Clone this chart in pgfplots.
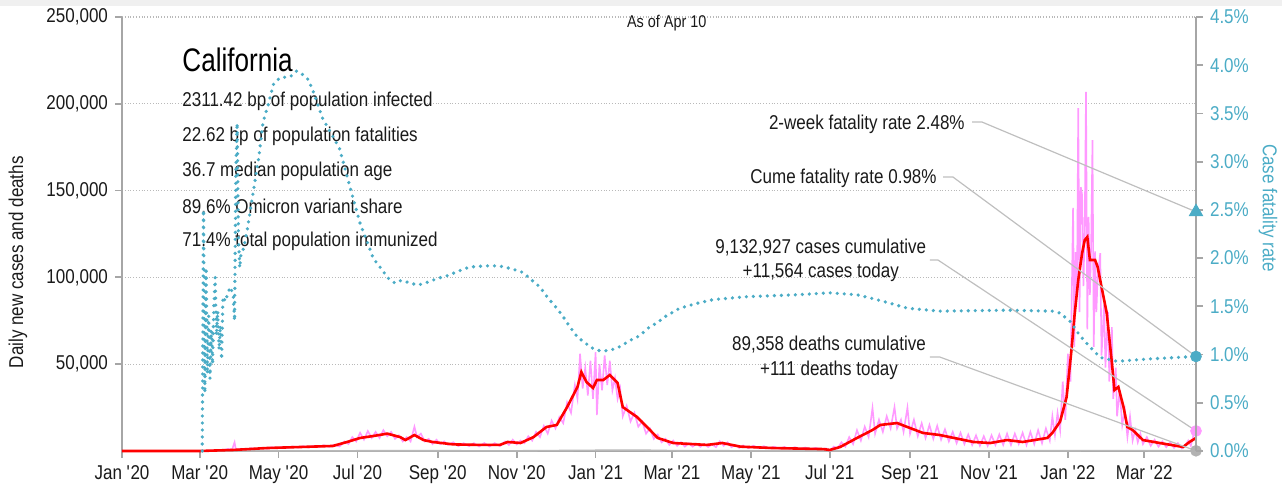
\documentclass[border=0pt]{standalone}
\usepackage{pgfplots}
\pgfplotsset{compat=1.18}
\usepackage{fontspec}
\setmainfont[FakeStretch=0.85]{Liberation Sans}
\newfontfamily\titlefont[FakeStretch=0.8]{Liberation Sans}
\definecolor{cfr}{HTML}{4BACC6}
\definecolor{pinkc}{HTML}{FF99FF}
\definecolor{axgray}{HTML}{A6A6A6}
\definecolor{anngray}{HTML}{BFBFBF}
\definecolor{txt}{HTML}{1A1A1A}
\begin{document}
\begin{tikzpicture}[font=\fontsize{10}{12}\selectfont]
\begin{axis}[
  name=ax, scale only axis, width=537pt, height=217pt,
  xmin=0, xmax=830, ymin=0, ymax=250000,
  axis x line=bottom, axis y line=left,
  axis line style={-, axgray, line width=0.9pt},
  every outer x axis line/.append style={-},
  every outer y axis line/.append style={-},
  xtick={0,60,121,182,244,305,366,425,486,547,609,670,731,790},
  xticklabels={Jan \textquotesingle20,Mar \textquotesingle20,May \textquotesingle20,Jul \textquotesingle20,Sep \textquotesingle20,Nov \textquotesingle20,Jan \textquotesingle21,Mar \textquotesingle21,May \textquotesingle21,Jul \textquotesingle21,Sep \textquotesingle21,Nov \textquotesingle21,Jan \textquotesingle22,Mar \textquotesingle22},
  ytick={50000,100000,150000,200000,250000},
  ymajorgrids, grid style={densely dotted, gray!55, line width=0.6pt},
  tick style={axgray, line width=0.9pt}, major tick length=3.5pt, tick align=outside,
  scaled y ticks=false,
  yticklabel style={/pgf/number format/.cd, fixed, 1000 sep={,}, assume math mode=true},
  ticklabel style={text=txt},
  clip=false,
]
\addplot[pinkc, line width=0.8pt] coordinates {
(0,0)(60,0)(63,50)(70,300)(74,600)(78,400)(82,1200)(85,700)(87,5000)(88,800)(92,1300)(96,900)(100,1600)(104,1100)(108,1900)(112,1300)(116,2200)(120,1500)(124,2400)(128,1700)(132,2600)(136,1900)(140,2800)(144,2000)(148,3000)(152,2200)(156,3300)(160,2400)(164,3600)(168,2600)(172,5500)(175,4000)(178,8000)(181,5500)(184,10500)(187,6500)(190,11500)(193,7500)(196,11000)(199,7500)(202,12000)(205,8500)(208,11000)(211,7000)(214,9000)(217,5500)(220,8000)(223,5500)(226,14000)(228,8000)(231,10000)(234,5500)(237,7000)(240,4000)(243,6500)(246,4000)(249,5500)(252,3500)(256,5000)(260,2800)(264,4500)(268,2800)(272,4500)(276,2600)(280,4600)(284,2600)(288,4500)(292,2800)(296,5500)(299,3500)(302,6500)(305,3800)(308,6000)(311,4500)(314,8500)(317,6000)(320,11000)(323,8000)(326,14500)(329,10000)(332,17500)(335,13000)(338,19500)(341,16000)(344,28000)(347,22000)(350,38000)(352,30000)(354,56000)(356,36000)(358,48000)(360,32000)(362,52000)(364,30000)(366,57000)(367,20700)(369,50000)(371,35000)(373,55000)(375,38000)(377,52000)(379,35000)(381,42000)(383,30000)(385,36000)(387,20000)(390,26000)(393,17000)(396,22000)(399,14000)(402,17000)(405,10000)(408,13000)(411,7000)(414,9500)(417,5000)(420,7000)(423,3500)(426,6000)(429,3000)(432,5000)(435,2500)(438,4500)(441,2500)(444,4200)(447,2400)(450,4000)(453,2300)(456,3800)(459,2200)(462,5600)(465,3000)(468,5000)(471,2200)(474,3500)(477,1800)(480,3200)(484,1600)(488,3000)(492,1500)(496,2800)(500,1400)(504,2500)(508,1300)(512,2300)(516,1200)(520,2200)(524,1100)(528,2000)(532,1000)(536,1800)(540,900)(544,1500)(547,0)(550,2500)(553,1500)(556,5000)(559,2500)(562,8000)(565,4000)(568,12000)(571,6000)(574,14000)(577,8000)(580,24800)(582,10000)(585,18000)(588,11000)(591,20000)(594,13000)(597,25300)(599,13000)(602,18000)(604,11000)(607,25000)(609,10000)(612,18000)(615,8500)(618,16000)(621,7500)(624,15000)(627,7000)(630,14500)(633,6500)(636,12500)(639,5500)(642,11000)(645,4500)(648,10500)(651,4000)(654,9500)(657,3500)(660,9000)(663,3000)(666,8500)(669,3000)(672,9000)(675,3500)(678,9500)(681,3500)(684,10000)(687,3500)(690,10000)(693,4000)(696,10500)(699,3500)(702,11000)(705,4000)(708,12000)(711,4500)(714,13000)(717,6000)(719,20000)(721,9000)(723,22000)(725,12000)(727,40000)(729,18000)(731,56000)(733,40000)(735,140000)(736,60000)(737,114600)(738,90000)(739,197500)(740,80000)(741,152000)(742,147500)(743,95000)(744,130000)(745,206800)(746,70000)(747,134800)(748,90000)(749,120000)(750,179100)(751,60000)(752,115000)(753,80000)(754,100000)(756,114000)(757,55000)(759,85000)(760,48000)(762,80000)(763,40000)(765,71400)(766,30000)(768,48000)(769,20000)(771,35000)(773,15000)(775,23600)(777,8000)(779,20000)(781,6000)(783,12000)(785,5000)(787,10000)(789,4000)(792,8000)(795,3000)(798,6500)(801,2500)(804,5500)(807,2200)(810,5000)(813,1800)(816,4500)(819,1500)(822,3500)(824,6000)(826,3000)(828,9000)(830,11564)
};
\addplot[gray!55, line width=0.8pt] coordinates {
(0,0)(60,0)(90,60)(120,80)(200,120)(240,140)(300,60)(366,400)(400,500)(430,150)(550,30)(620,100)(730,120)(760,250)(800,150)(830,111)
};
\addplot[red, line width=1.3pt] coordinates {
(0,0)(60,0)(86,600)(112,1700)(138,2300)(163,2900)(174,5200)(184,7500)(194,8600)(205,10000)(215,8000)(219,6300)(226,9200)(233,6300)(240,5200)(256,3800)(277,3500)(292,3500)(298,5200)(308,4600)(318,8000)(328,13800)(336,15000)(344,25300)(352,36900)(355,45500)(359,39700)(364,36300)(367,40900)(372,40900)(377,43800)(383,39200)(387,25300)(398,19600)(408,12100)(414,7500)(426,4600)(452,3500)(464,4600)(478,2500)(503,1700)(542,1100)(547,600)(555,2300)(568,7500)(580,12100)(586,15000)(599,16100)(607,13800)(619,10400)(632,9200)(658,5200)(671,4600)(684,6300)(696,5200)(715,7500)(719,10400)(725,17000)(730,31100)(734,59900)(736,77200)(739,98500)(742,114000)(744,121500)(746,123300)(748,110000)(752,110000)(754,106000)(757,94500)(761,79500)(765,50700)(767,35100)(770,36900)(774,25300)(777,13800)(781,12100)(789,6300)(802,4600)(820,2300)(825,5200)(830,7500)
};
\addplot[only marks, mark=*, mark size=2.7pt, pinkc] coordinates {(830,11564)};
\addplot[only marks, mark=*, mark size=2.7pt, gray!60] coordinates {(830,111)};
% annotation leader lines
\draw[anngray, line width=0.6pt] (axis cs:656.9,189500) -- (axis cs:664.6,189500) -- (axis cs:830,137778);
\draw[anngray, line width=0.6pt] (axis cs:634.5,157800) -- (axis cs:642.2,157800) -- (axis cs:830,54444);
\draw[anngray, line width=0.6pt] (axis cs:624.4,110000) -- (axis cs:630.6,110000) -- (axis cs:830,11564);
\draw[anngray, line width=0.6pt] (axis cs:624.4,54100) -- (axis cs:632.1,54100) -- (axis cs:830,111);
% texts
\node[anchor=east, text=txt, inner sep=0pt] at (axis cs:651.5,188350) {2-week fatality rate 2.48\%};
\node[anchor=east, text=txt, inner sep=0pt] at (axis cs:629.8,157250) {Cume fatality rate 0.98\%};
\node[align=center, text=txt, inner sep=0pt, font=\fontsize{10}{12.2}\selectfont] at (axis cs:540,110000) {9,132,927 cases cumulative\\+11,564 cases today};
\node[align=center, text=txt, inner sep=0pt, font=\fontsize{10}{12.2}\selectfont] at (axis cs:546.4,53600) {89,358 deaths cumulative\\+111 deaths today};
\node[text=txt, inner sep=0pt, font=\fontsize{8.5}{10}\selectfont] at (axis cs:421,246500) {As of Apr 10};
\node[anchor=west, text=black, inner sep=0pt, font=\titlefont\fontsize{16.3}{18}\selectfont] at (axis cs:46.4,225200) {California};
\node[anchor=west, text=txt, inner sep=0pt] at (axis cs:46.4,201600) {2311.42 bp of population infected};
\node[anchor=west, text=txt, inner sep=0pt] at (axis cs:46.4,181400) {22.62 bp of population fatalities};
\node[anchor=west, text=txt, inner sep=0pt] at (axis cs:46.4,161300) {36.7 median population age};
\node[anchor=west, text=txt, inner sep=0pt] at (axis cs:46.4,141100) {89.6\% Omicron variant share};
\node[anchor=west, text=txt, inner sep=0pt] at (axis cs:46.4,121000) {71.4\% total population immunized};
\node[rotate=90, text=txt, inner sep=0pt] at (rel axis cs:-0.0968,0.435) {Daily new cases and deaths};
\end{axis}
\begin{axis}[
  scale only axis, width=537pt, height=217pt,
  xmin=0, xmax=830, ymin=0, ymax=4.5,
  axis x line=none, axis y line=right,
  axis line style={-, axgray, line width=0.9pt},
  every outer y axis line/.append style={-},
  ytick={0,0.5,1,1.5,2,2.5,3,3.5,4,4.5},
  yticklabel={\pgfmathprintnumber[fixed,fixed zerofill,precision=1,assume math mode=true]{\tick}\%},
  yticklabel style={text=cfr},
  tick style={axgray, line width=0.9pt}, major tick length=3.5pt, tick align=outside,
  clip=false,
]
\addplot[cfr, line width=1.8pt, line cap=round, dash pattern=on 0pt off 3.5pt] coordinates {
(62,0)(63,2.50)(64,0.60)(65,1.90)(66,0.80)(67,1.40)(68,0.75)(69,1.25)(70,0.90)(71,1.50)(72,1.80)(73,1.20)(74,1.45)(75,1.05)(76,1.30)(77,0.95)(78,1.60)(80,1.55)(82,1.65)(84,1.70)(86,1.60)(87,1.35)(88,2.90)(89,3.40)(90,2.20)(91,1.90)(92,2.05)(94,2.10)(97,2.31)(101,2.65)(106,3.07)(109,3.41)(113,3.59)(117,3.80)(122,3.87)(130,3.88)(135,3.94)(140,3.90)(144,3.85)(148,3.72)(155,3.45)(168,3.14)(178,2.65)(184,2.36)(192,2.08)(194,2.00)(201,1.88)(205,1.80)(211,1.74)(216,1.77)(223,1.74)(229,1.72)(236,1.75)(244,1.79)(252,1.82)(261,1.87)(267,1.90)(271,1.91)(281,1.92)(291,1.92)(301,1.89)(310,1.85)(315,1.79)(323,1.70)(329,1.59)(336,1.48)(340,1.41)(346,1.29)(352,1.18)(358,1.12)(363,1.07)(369,1.04)(376,1.04)(383,1.07)(387,1.10)(393,1.15)(398,1.18)(403,1.23)(408,1.29)(414,1.33)(418,1.38)(431,1.48)(444,1.53)(457,1.57)(483,1.60)(522,1.62)(547,1.64)(568,1.62)(583,1.57)(594,1.53)(607,1.48)(632,1.45)(684,1.46)(719,1.45)(725,1.43)(733,1.34)(740,1.20)(748,1.08)(756,0.97)(769,0.93)(789,0.95)(815,0.97)(830,0.98)
};
\addplot[only marks, mark=triangle*, mark size=3.8pt, cfr] coordinates {(830,2.48)};
\addplot[only marks, mark=*, mark size=2.7pt, cfr] coordinates {(830,0.98)};
\node[rotate=-90, text=cfr, inner sep=0pt] at (rel axis cs:1.067,0.56) {Case fatality rate};
\end{axis}
\pgfresetboundingbox
\path[use as bounding box] ([xshift=-61pt,yshift=-20pt]ax.south west) rectangle ([xshift=43pt,yshift=8.5pt]ax.north east);
\fill[black!6] ([xshift=-61pt,yshift=5.5pt]ax.north west) rectangle ([xshift=43pt,yshift=8.5pt]ax.north east);
\end{tikzpicture}
\end{document}
